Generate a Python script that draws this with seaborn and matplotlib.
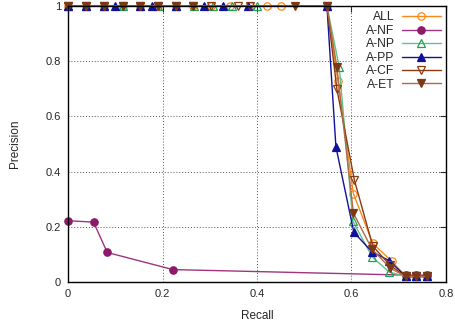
import matplotlib
matplotlib.use("Agg")
import matplotlib.pyplot as plt
import seaborn as sns
import pandas as pd

series_names = ["ALL", "A-NF", "A-NP", "A-PP", "A-CF", "A-ET"]

all_recall = [0, 0.038, 0.076, 0.116, 0.153, 0.191, 0.229, 0.265, 0.303, 0.343, 0.385, 0.421, 0.45,
              0.548, 0.571, 0.604, 0.645, 0.685, 0.715, 0.737, 0.760]
all_prec = [1, 1, 1, 1, 1, 1, 1, 1, 1, 1, 1, 1, 1,
            1, 0.73, 0.32, 0.14, 0.075, 0.02, 0.02, 0.02]

nf_recall = [0, 0.054, 0.083, 0.222, 0.715, 0.737, 0.760]
nf_prec = [0.222, 0.217, 0.107, 0.045, 0.025, 0.025, 0.025]

np_recall = [0, 0.038, 0.076, 0.116, 0.153, 0.191, 0.229, 0.267, 0.307, 0.347, 0.4,
             0.548, 0.574, 0.603, 0.644, 0.680, 0.715, 0.737, 0.760]
np_prec = [1, 1, 1, 1, 1, 1, 1, 1, 1, 1, 1,
           1, 0.78, 0.22, 0.09, 0.036, 0.02, 0.02, 0.02]

pp_recall = [0, 0.038, 0.076, 0.1, 0.153, 0.178, 0.229, 0.288, 0.328, 0.381,
             0.548, 0.567, 0.605, 0.643, 0.680, 0.715, 0.737, 0.760]
pp_prec = [1, 1, 1, 1, 1, 1, 1, 1, 1, 1,
           1, 0.49, 0.18, 0.11, 0.077, 0.02, 0.02, 0.02]

cf_recall = [0, 0.038, 0.076, 0.116, 0.153, 0.191, 0.229, 0.265, 0.302, 0.36, 0.385,
             0.548, 0.569, 0.606, 0.645, 0.682, 0.715, 0.737, 0.760]
cf_prec = [1, 1, 1, 1, 1, 1, 1, 1, 1, 1, 1,
           1, 0.70, 0.37, 0.13, 0.06, 0.02, 0.02, 0.02]

et_recall = [0, 0.038, 0.076, 0.116, 0.153, 0.191, 0.229, 0.265, 0.48,
             0.548, 0.569, 0.604, 0.643, 0.682, 0.715, 0.737, 0.760]
et_prec = [1, 1, 1, 1, 1, 1, 1, 1, 1,
           1, 0.78, 0.25, 0.12, 0.05, 0.02, 0.02, 0.02]

x_ticks = [0, 0.2, 0.4, 0.6, 0.8]
y_ticks = [0, 0.2, 0.4, 0.6, 0.8, 1]

sns.set_style("white")
plt.rcParams['font.family'] = ['Liberation Sans', 'DejaVu Sans']

fig = plt.figure(figsize=(4.56, 3.3), dpi=100)
ax = fig.add_axes([68/456, 1 - 282/330, (446-68)/456, (282-6)/330])

styles = [
    ("ALL", all_recall, all_prec, "#f7891f", "#f7891f", "o", "none"),
    ("A-NF", nf_recall, nf_prec, "#8c1a6a", "#a0347f", "o", "#8c1a6a"),
    ("A-NP", np_recall, np_prec, "#22a05a", "#66c08a", "^", "none"),
    ("A-PP", pp_recall, pp_prec, "#10109a", "#10109a", "^", "#10109a"),
    ("A-CF", cf_recall, cf_prec, "#8b3a10", "#8b3a10", "v", "none"),
    ("A-ET", et_recall, et_prec, "#7a3a18", "#b06a45", "v", "#7a3a18"),
]

for name, xs, ys, mcol, lcol, mk, fc in styles:
    df = pd.DataFrame({"Recall": xs, "Precision": ys})
    sns.lineplot(data=df, x="Recall", y="Precision", ax=ax, sort=False,
                 color=lcol, linewidth=1.0, marker=mk, markersize=5.3,
                 markerfacecolor=fc, markeredgecolor=mcol, markeredgewidth=0.9,
                 label=name, clip_on=False, zorder=3)

ax.set_xlim(0, 0.8)
ax.set_ylim(0, 1)
ax.set_xticks(x_ticks)
ax.set_xticklabels(["0", "0.2", "0.4", "0.6", "0.8"])
ax.set_yticks(y_ticks)
ax.set_yticklabels(["0", "0.2", "0.4", "0.6", "0.8", "1"])
ax.tick_params(direction="in", top=True, right=True, length=4, labelsize=8, width=0.8, pad=5)
ax.grid(True, linestyle=(0, (1, 2)), color="#555555", linewidth=0.7)
for s in ax.spines.values():
    s.set_color("black")
    s.set_linewidth(1.0)
    s.set_zorder(10)
ax.set_xlabel("Recall", fontsize=8.5, labelpad=8)
ax.set_ylabel("Precision", fontsize=8.5, labelpad=18)

leg = ax.legend(loc="upper right", markerfirst=False, fontsize=8.7, frameon=True,
                fancybox=False, edgecolor="none", facecolor="white", framealpha=1,
                handlelength=3.2, labelspacing=0.12, borderpad=0.45, handletextpad=0.6,
                borderaxespad=0.0, bbox_to_anchor=(1.0, 1.0))
leg.set_zorder(5)

fig.savefig("out.png", dpi=100)
